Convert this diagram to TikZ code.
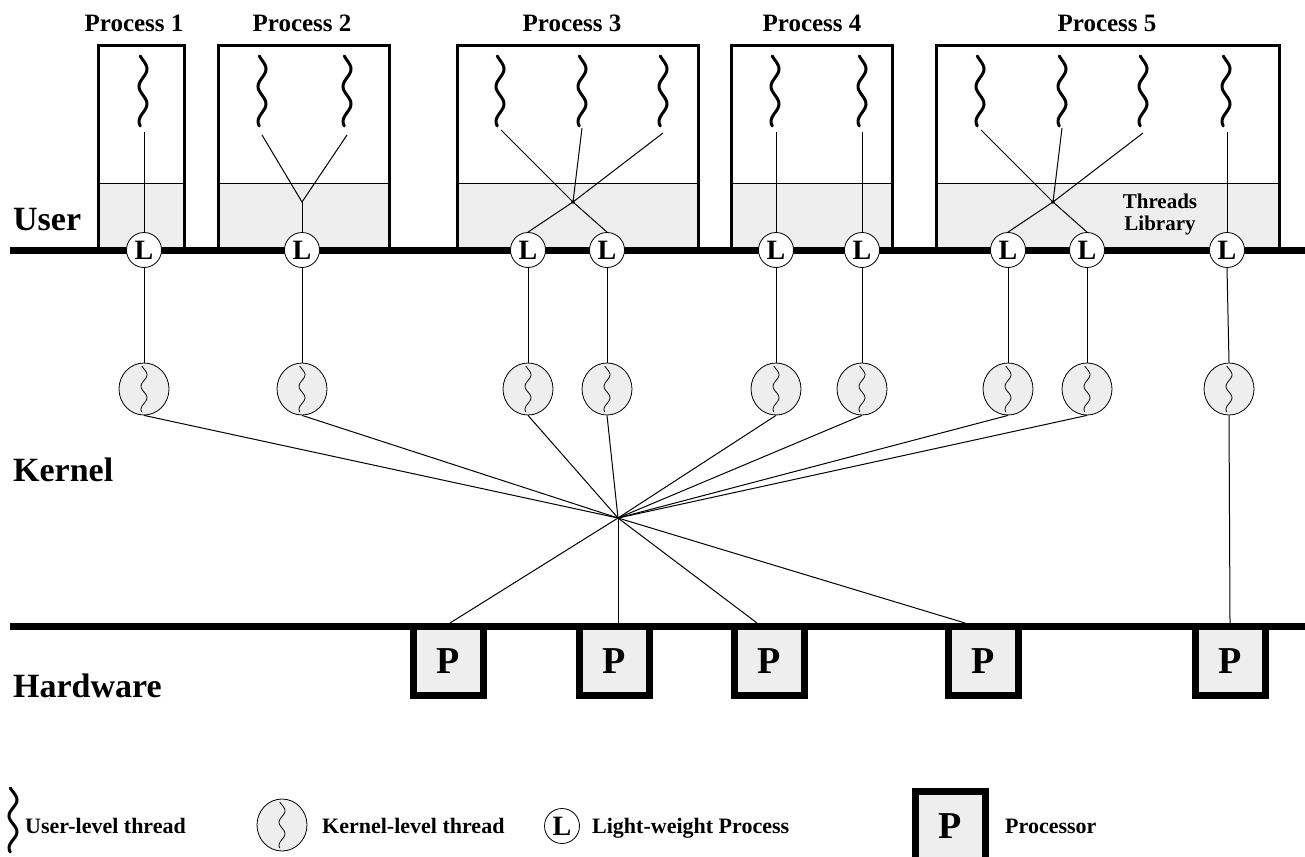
\documentclass[tikz,border=0pt]{standalone}
\usepackage{fontspec}
\setmainfont{Liberation Serif}
\usetikzlibrary{shapes.geometric}
\definecolor{lg}{RGB}{238,238,238}
\newcommand{\uthr}[3]{\draw[line width=3pt, line cap=round] plot[smooth, domain=0:#3, samples=40] ({#1+4*sin((\x-0.06*#3)*(720/#3))}, {#2+\x});}
\newcommand{\kthr}[2]{\draw[line width=0.8pt] plot[smooth, domain=0:46, samples=30] ({#1+3*sin((\x-3)*(360/23))}, {#2+\x});}
\tikzset{
 heavy/.style={line width=7pt},
 pbox/.style={line width=3pt},
 conn/.style={line width=1pt},
 lwp/.style={circle, draw, fill=white, line width=0.8pt, minimum size=35pt, inner sep=0pt, font=\fontsize{28}{28}\selectfont\bfseries},
 kthread/.style={ellipse, draw, fill=lg, line width=0.8pt, minimum width=50pt, minimum height=52pt, inner sep=0pt},
 proc/.style={rectangle, draw, fill=lg, line width=7pt, minimum width=70pt, minimum height=69pt, inner sep=0pt, font=\fontsize{38}{38}\selectfont\bfseries},
 plabel/.style={anchor=base, font=\fontsize{25}{25}\selectfont\bfseries},
 layer/.style={anchor=base west, inner sep=0pt, font=\fontsize{34}{34}\selectfont\bfseries},
 legtext/.style={anchor=base west, inner sep=0pt, font=\fontsize{22}{22}\selectfont\bfseries},
 libtext/.style={anchor=base, font=\fontsize{21}{21}\selectfont\bfseries},
}
\begin{document}
\begin{tikzpicture}[x=1pt,y=-1pt]
\useasboundingbox (0,0) rectangle (1305,856);
% process boxes
\foreach \a/\b in {98/184, 218/389, 457/698, 731/892, 936/1279} {
  \fill[lg] (\a,183) rectangle (\b,250);
  \draw[line width=0.8pt] (\a,183) -- (\b,183);
  \draw[pbox] (\a,250) -- (\a,46) -- (\b,46) -- (\b,250);
}
% process labels
\node[plabel] (lab1) at (134,32) {Process 1};
\node[plabel] (lab2) at (302,32) {Process 2};
\node[plabel] (lab3) at (572,32) {Process 3};
\node[plabel] (lab4) at (812,32) {Process 4};
\node[plabel] (lab5) at (1107,32) {Process 5};
\node[libtext] (lib1) at (1160,208) {Threads};
\node[libtext] (lib2) at (1160,230) {Library};
% layer labels
\node[layer] (user) at (13,230) {User};
\node[layer] (kern) at (13,481) {Kernel};
\node[layer] (hard) at (13,697) {Hardware};
% heavy lines
\draw[heavy] (10,250) -- (1305,250);
\draw[heavy] (10,626.5) -- (1305,626.5);
% user-level threads
\foreach \p in {143,262,347,500,582,663,775,862,980,1062,1143,1226} {\uthr{\p}{56}{70}}
\coordinate (t1) at (144,132);
\coordinate (t2) at (262,135);
\coordinate (t3) at (347,135);
\coordinate (t4) at (501,130);
\coordinate (t5) at (582,128);
\coordinate (t6) at (663,133);
\coordinate (t7) at (776,132);
\coordinate (t8) at (862,132);
\coordinate (t9) at (981,130);
\coordinate (t10) at (1062,128);
\coordinate (t11) at (1143,133);
\coordinate (t12) at (1227,132);
\coordinate (j2) at (302,202);
\coordinate (j3) at (573,202);
\coordinate (j5) at (1053,202);
% LWPs
\node[lwp] (L1) at (144,250) {L};
\node[lwp] (L2) at (302,250) {L};
\node[lwp] (L3) at (528,250) {L};
\node[lwp] (L4) at (607,250) {L};
\node[lwp] (L5) at (776,250) {L};
\node[lwp] (L6) at (862,250) {L};
\node[lwp] (L7) at (1008,250) {L};
\node[lwp] (L8) at (1087,250) {L};
\node[lwp] (L9) at (1227,250) {L};
% user connections
\draw[conn] (t1) -- (L1.north);
\draw[conn] (t2) -- (j2) -- (t3);
\draw[conn] (j2) -- (L2.north);
\draw[conn] (t4) -- (j3) -- (L4.north);
\draw[conn] (t6) -- (j3) -- (L3.north);
\draw[conn] (t5) -- (j3);
\fill (j3) circle (1.8pt);
\draw[conn] (t7) -- (L5.north);
\draw[conn] (t8) -- (L6.north);
\draw[conn] (t9) -- (j5) -- (L8.north);
\draw[conn] (t11) -- (j5) -- (L7.north);
\draw[conn] (t10) -- (j5);
\fill (j5) circle (1.8pt);
\draw[conn] (t12) -- (L9.north);
% kernel threads
\foreach \i/\p in {1/144,2/302,3/528,4/607,5/776,6/862,7/1008,8/1087,9/1229} {
  \node[kthread] (K\i) at (\p,389) {};
}
\foreach \p in {144,302,528,607,776,862,1008,1087,1229} {\kthr{\p}{366}}
\foreach \i in {1,...,9} {\draw[conn] (L\i.south) -- (K\i.north);}
% processors
\node[proc] (P1) at (448.5,661) {P};
\node[proc] (P2) at (614.5,661) {P};
\node[proc] (P3) at (769,661) {P};
\node[proc] (P4) at (983.5,661) {P};
\node[proc] (P5) at (1230,661) {P};
\coordinate (hub) at (618,518);
\coordinate (h1) at (450,623);
\coordinate (h2) at (618,623);
\coordinate (h3) at (757,623);
\coordinate (h4) at (965,623);
\foreach \i in {1,...,8} {\draw[conn] (K\i.south) -- (hub);}
\foreach \i in {1,...,4} {\draw[conn] (hub) -- (h\i);}
\draw[conn] (K9.south) -- (P5.north);
% legend
\uthr{13}{788}{64}
\node[legtext] (lt1) at (25,833) {User-level thread};
\node[kthread] (lk) at (282,825) {};
\kthr{282}{802}
\node[legtext] (lt2) at (322,833) {Kernel-level thread};
\node[lwp] (ll) at (562,826) {L};
\node[legtext] (lt3) at (592,833) {Light-weight Process};
\node[proc] (lp) at (950,826) {P};
\node[legtext] (lt4) at (1005,833) {Processor};
\end{tikzpicture}
\end{document}
